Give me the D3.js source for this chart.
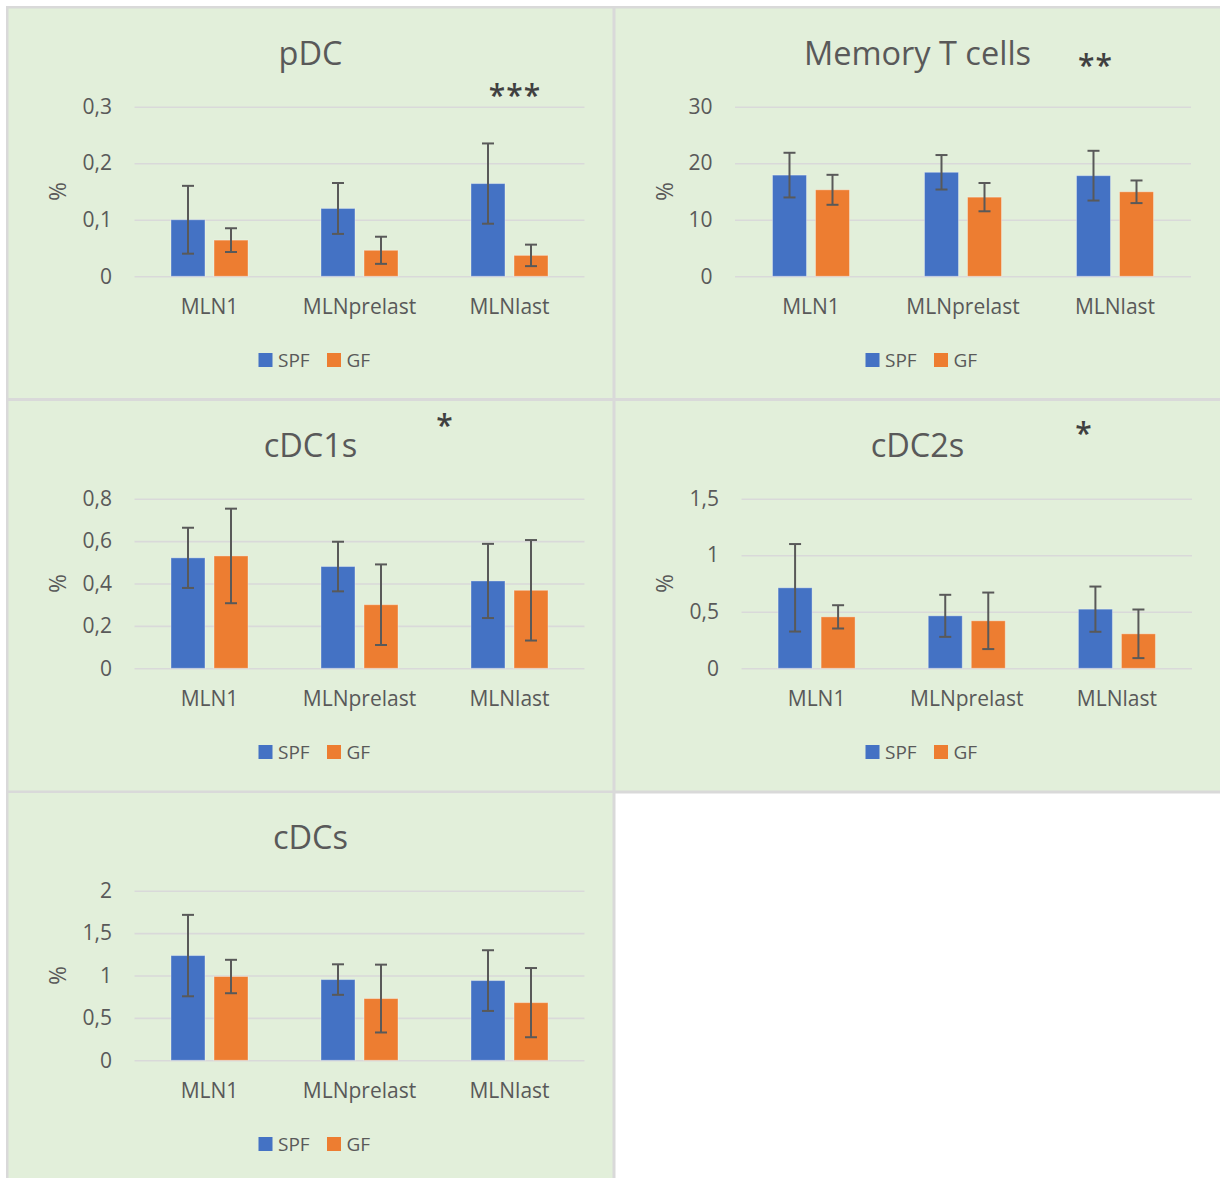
<!DOCTYPE html>
<html>
<head>
<meta charset="utf-8">
<script src="https://cdn.jsdelivr.net/npm/d3@7"></script>
<style>
  html, body { margin: 0; padding: 0; background: #ffffff; }
  svg { display: block; font-family: "Open Sans", "Noto Sans", sans-serif; }
</style>
</head>
<body>
<svg id="chart" width="1220" height="1178"></svg>
<script>
// Shared categories and series
const categories = ["MLN1", "MLNprelast", "MLNlast"];
const seriesNames = ["SPF", "GF"];

// pDC (% of cells), mean and standard deviation
const pdcSPF = [0.100, 0.120, 0.164];
const pdcSPFsd = [0.060, 0.045, 0.071];
const pdcGF = [0.064, 0.046, 0.037];
const pdcGFsd = [0.021, 0.024, 0.019];
const pdcTicks = [0, 0.1, 0.2, 0.3];

// Memory T cells
const memSPF = [17.9, 18.4, 17.8];
const memSPFsd = [3.95, 3.05, 4.4];
const memGF = [15.3, 14.0, 14.95];
const memGFsd = [2.65, 2.5, 2.0];
const memTicks = [0, 10, 20, 30];

// cDC1s
const cdc1SPF = [0.521, 0.480, 0.412];
const cdc1SPFsd = [0.142, 0.117, 0.175];
const cdc1GF = [0.530, 0.300, 0.368];
const cdc1GFsd = [0.223, 0.190, 0.237];
const cdc1Ticks = [0, 0.2, 0.4, 0.6, 0.8];

// cDC2s
const cdc2SPF = [0.712, 0.464, 0.523];
const cdc2SPFsd = [0.387, 0.186, 0.200];
const cdc2GF = [0.455, 0.420, 0.305];
const cdc2GFsd = [0.103, 0.250, 0.215];
const cdc2Ticks = [0, 0.5, 1, 1.5];

// cDCs
const cdcsSPF = [1.235, 0.952, 0.940];
const cdcsSPFsd = [0.480, 0.180, 0.358];
const cdcsGF = [0.988, 0.728, 0.680];
const cdcsGFsd = [0.197, 0.400, 0.408];
const cdcsTicks = [0, 0.5, 1, 1.5, 2];

// Titles and significance marks
const titles = ["pDC", "Memory T cells", "cDC1s", "cDC2s", "cDCs"];
const stars = ["***", "**", "*", "*", ""];

const panelData = [
  { spf: pdcSPF, spfErr: pdcSPFsd, gf: pdcGF, gfErr: pdcGFsd, ticks: pdcTicks },
  { spf: memSPF, spfErr: memSPFsd, gf: memGF, gfErr: memGFsd, ticks: memTicks },
  { spf: cdc1SPF, spfErr: cdc1SPFsd, gf: cdc1GF, gfErr: cdc1GFsd, ticks: cdc1Ticks },
  { spf: cdc2SPF, spfErr: cdc2SPFsd, gf: cdc2GF, gfErr: cdc2GFsd, ticks: cdc2Ticks },
  { spf: cdcsSPF, spfErr: cdcsSPFsd, gf: cdcsGF, gfErr: cdcsGFsd, ticks: cdcsTicks }
];

// Panel placement: green card rectangle and inner plot area (card-relative)
const layout = [
  { x: 8.5,   y: 8.5, w: 604,   h: 389.5, left: 126.5, right: 576.5, starX: 507, starY: 83 },
  { x: 615.5, y: 8.5, w: 604.5, h: 389.5, left: 120,   right: 576,   starX: 480.5, starY: 53 },
  { x: 8.5,   y: 401, w: 604,   h: 389.5, left: 126.5, right: 576.5, starX: 437, starY: 21 },
  { x: 615.5, y: 401, w: 604.5, h: 389.5, left: 126.5, right: 577,   starX: 469, starY: 29 },
  { x: 8.5,   y: 793, w: 604,   h: 385,   left: 126.5, right: 576.5, starX: 0,   starY: 0 }
];

const colors = { SPF: "#4472C4", GF: "#ED7D31" };
const textColor = "#595959";
const gridColor = "#D9D9D9";
const cardColor = "#E2EFDA";

const locale = d3.formatLocale({ decimal: ",", thousands: ".", grouping: [3], currency: ["", "€"] });
const tickFmt = locale.format("~g");

const svg = d3.select("#chart");

// Grey frame behind the cards
svg.append("rect").attr("x", 6).attr("y", 6).attr("width", 1214).attr("height", 787.5).attr("fill", gridColor);
svg.append("rect").attr("x", 6).attr("y", 6).attr("width", 609.5).attr("height", 1172).attr("fill", gridColor);

const plotTop = 98.7, plotBottom = 268.3;

panelData.forEach((pd, i) => {
  const L = layout[i];
  // card origin is placed so that inner coordinates start at the frame corner
  const ox = L.x - 0.5, oy = L.y - 0.5 - (i >= 2 ? 0.5 : 0);
  svg.append("rect").attr("x", L.x).attr("y", L.y).attr("width", L.w).attr("height", L.h).attr("fill", cardColor);

  const g = svg.append("g").attr("transform", `translate(${ox},${oy})`);

  const y = d3.scaleLinear().domain([0, d3.max(pd.ticks)]).range([plotBottom, plotTop]);
  const x0 = d3.scaleBand().domain(categories).range([L.left, L.right]);
  const half = 38.5;
  const x1 = d3.scaleBand().domain(seriesNames)
    .range([x0.bandwidth() / 2 - half, x0.bandwidth() / 2 + half])
    .paddingInner(0.21);

  // value axis with gridlines
  const yAxis = g.append("g").attr("transform", `translate(${L.left},0)`)
    .call(d3.axisLeft(y).tickValues(pd.ticks).tickFormat(tickFmt)
      .tickSize(-(L.right - L.left)).tickPadding(22.5));
  yAxis.select(".domain").remove();
  yAxis.selectAll("line").attr("stroke", gridColor).attr("stroke-width", 1.6);
  yAxis.selectAll("text").attr("fill", textColor).attr("font-size", 21)
    .attr("font-family", "'Open Sans', sans-serif");

  // category axis
  const xAxis = g.append("g").attr("transform", `translate(0,${plotBottom})`)
    .call(d3.axisBottom(x0).tickSize(0).tickPadding(23));
  xAxis.select(".domain").remove();
  xAxis.selectAll("text").attr("fill", textColor).attr("font-size", 21)
    .attr("font-family", "'Open Sans', sans-serif");

  // bars
  const rows = [];
  categories.forEach((c, k) => {
    rows.push({ cat: c, series: "SPF", v: pd.spf[k], e: pd.spfErr[k] });
    rows.push({ cat: c, series: "GF", v: pd.gf[k], e: pd.gfErr[k] });
  });

  g.append("g").selectAll("rect").data(rows).join("rect")
    .attr("x", d => x0(d.cat) + x1(d.series))
    .attr("y", d => y(d.v))
    .attr("width", x1.bandwidth())
    .attr("height", d => y(0) - y(d.v))
    .attr("fill", d => colors[d.series])
    .attr("stroke", "rgba(255,255,255,0.35)")
    .attr("stroke-width", 1);

  // error bars
  const eg = g.append("g").attr("stroke", "#595959").attr("stroke-width", 2);
  const cx = d => x0(d.cat) + x1(d.series) + x1.bandwidth() / 2;
  eg.selectAll("line.v").data(rows).join("line").attr("class", "v")
    .attr("x1", cx).attr("x2", cx)
    .attr("y1", d => y(d.v + d.e)).attr("y2", d => y(d.v - d.e));
  eg.selectAll("line.t").data(rows).join("line").attr("class", "t")
    .attr("x1", d => cx(d) - 6).attr("x2", d => cx(d) + 6)
    .attr("y1", d => y(d.v + d.e)).attr("y2", d => y(d.v + d.e));
  eg.selectAll("line.b").data(rows).join("line").attr("class", "b")
    .attr("x1", d => cx(d) - 6).attr("x2", d => cx(d) + 6)
    .attr("y1", d => y(d.v - d.e)).attr("y2", d => y(d.v - d.e));

  // title
  g.append("text").attr("x", 302.5).attr("y", 56.5)
    .attr("text-anchor", "middle").attr("fill", textColor)
    .attr("font-size", 32.5).text(titles[i]);

  // significance marks
  if (stars[i]) {
    g.append("text").attr("x", L.starX).attr("y", L.starY + 14.5)
      .attr("text-anchor", "middle").attr("fill", "#404040")
      .attr("font-size", 30).attr("font-weight", 600).attr("letter-spacing", 1).text(stars[i]);
  }

  // axis title
  g.append("text")
    .attr("transform", `translate(57.5,${(plotTop + plotBottom) / 2}) rotate(-90)`)
    .attr("text-anchor", "middle").attr("fill", textColor)
    .attr("font-size", 23).text("%");

  // legend
  const lg = g.append("g").attr("transform", "translate(250.5,345)");
  const items = lg.selectAll("g").data(seriesNames).join("g")
    .attr("transform", (d, k) => `translate(${k * 68.5},0)`);
  items.append("rect").attr("width", 14).attr("height", 14).attr("fill", d => colors[d]);
  items.append("text").attr("x", 19.5).attr("y", 14).attr("fill", textColor)
    .attr("font-size", 19).text(d => d);
});
</script>
</body>
</html>
